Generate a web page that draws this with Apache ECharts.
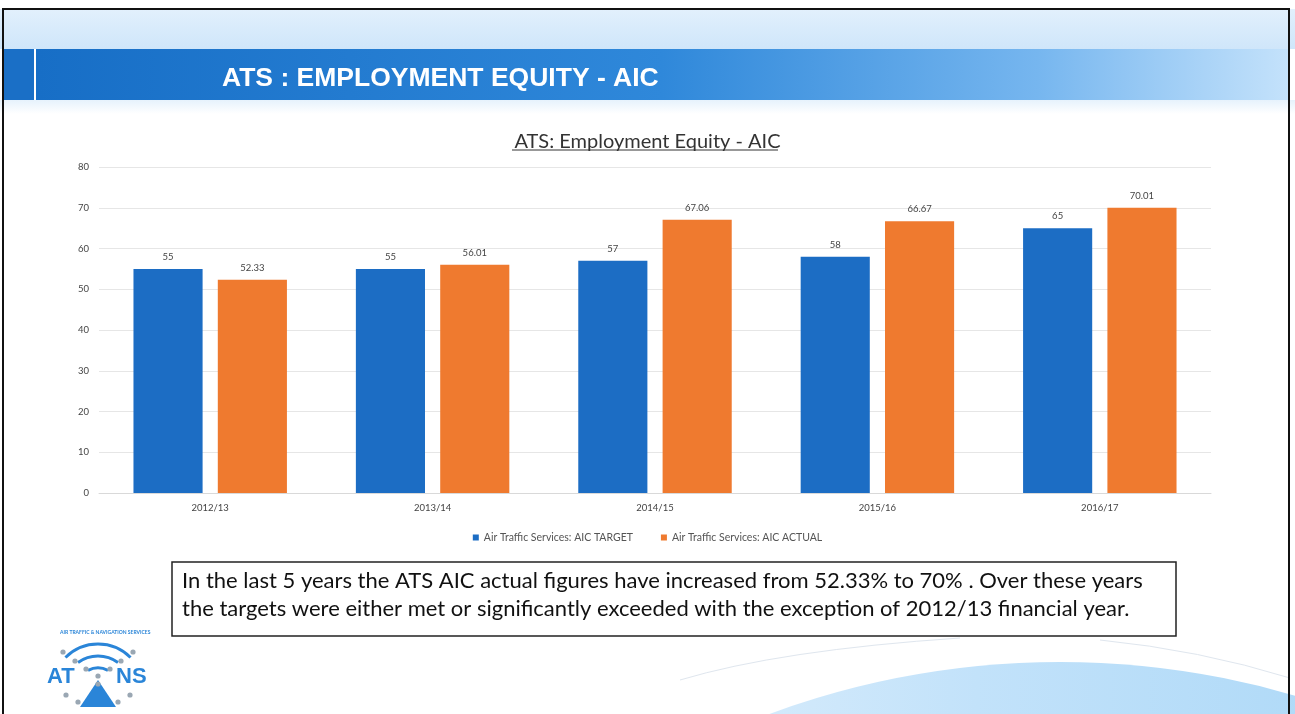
<!DOCTYPE html>
<html>
<head>
<meta charset="utf-8">
<script src="https://cdn.jsdelivr.net/npm/echarts@6/dist/echarts.min.js"></script>
<style>
  html, body { margin: 0; padding: 0; background: #ffffff; }
  #chart { width: 1295px; height: 714px; }
</style>
</head>
<body>
<div id="chart"></div>
<script>
// Financial years on the category axis
const years = ['2012/13', '2013/14', '2014/15', '2015/16', '2016/17'];
// AIC representation (%) – target vs actual
const aicTarget = [55, 55, 57, 58, 65];
const aicActual = [52.33, 56.01, 67.06, 66.67, 70.01];
const seriesNames = ['Air Traffic Services: AIC TARGET', 'Air Traffic Services: AIC ACTUAL'];
const slideHeading = 'ATS : EMPLOYMENT EQUITY - AIC';
const chartTitle = 'ATS: Employment Equity - AIC';
const commentLines = [
  'In the last 5 years the ATS AIC actual figures have increased from 52.33% to 70% . Over these years',
  'the targets were either met or significantly exceeded with the exception of 2012/13 financial year.'
];

const BLUE = '#1c6dc4';
const ORANGE = '#ef7a2f';
const FONT = 'Lato, "Open Sans", sans-serif';

const chart = echarts.init(document.getElementById('chart'), null, { renderer: 'canvas' });

const labelStyle = { show: true, position: 'top', distance: 7, color: '#444', fontSize: 9.5, fontFamily: FONT };

// Logo dots on arcs
const logoDots = [
  [63, 652], [133, 652], [75, 661], [121, 661], [86, 669], [110, 669],
  [98, 676], [98, 684], [66, 695], [130, 695], [78, 702], [118, 702]
];

const graphics = [
  // top light band
  { type: 'rect', silent: true, z: -10, shape: { x: 0, y: 9, width: 1295, height: 40 },
    style: { fill: { type: 'linear', x: 0, y: 0, x2: 0, y2: 1, colorStops: [
      { offset: 0, color: '#e2f0fc' }, { offset: 1, color: '#cfe6fa' } ] } } },
  // band under heading
  { type: 'rect', silent: true, z: -10, shape: { x: 0, y: 100, width: 1295, height: 14 },
    style: { fill: { type: 'linear', x: 0, y: 0, x2: 0, y2: 1, colorStops: [
      { offset: 0, color: '#e6f2fc' }, { offset: 1, color: '#ffffff' } ] } } },
  // left block of heading bar
  { type: 'rect', silent: true, z: -5, shape: { x: 4, y: 49, width: 30, height: 51 },
    style: { fill: '#1a6fc6' } },
  // heading bar
  { type: 'rect', silent: true, z: -5, shape: { x: 36, y: 49, width: 1252, height: 51 },
    style: { fill: { type: 'linear', x: 0, y: 0, x2: 1, y2: 0, colorStops: [
      { offset: 0, color: '#176ec6' }, { offset: 0.5, color: '#2f88da' },
      { offset: 0.8, color: '#76b6ef' }, { offset: 1, color: '#c4e2fb' } ] } } },
  { type: 'text', silent: true, z: 5, x: 222, y: 65,
    style: { text: slideHeading, fill: '#ffffff', fontSize: 26.5, fontWeight: 'bold',
      fontFamily: '"Liberation Sans", Arial, sans-serif' } },
  // chart title underline
  { type: 'line', silent: true, z: 5, shape: { x1: 512, y1: 150, x2: 778, y2: 150 },
    style: { stroke: '#333', lineWidth: 1 } },
  // bottom-right swoosh
  { type: 'circle', silent: true, z: -8, shape: { cx: 1060, cy: 1500, r: 838 },
    style: { fill: { type: 'linear', x: 0, y: 0, x2: 1, y2: 0, colorStops: [
      { offset: 0, color: 'rgba(200,228,250,0.1)' }, { offset: 0.45, color: '#c2e2fa' },
      { offset: 0.7, color: '#acd8f7' }, { offset: 1, color: '#8ec8f2' } ] } } },
  { type: 'bezierCurve', silent: true, z: -8,
    shape: { x1: 680, y1: 680, x2: 960, y2: 638, cpx1: 780, cpy1: 650 },
    style: { fill: null, stroke: '#dfe6ee', lineWidth: 1 } },
  { type: 'bezierCurve', silent: true, z: -8,
    shape: { x1: 1100, y1: 640, x2: 1290, y2: 678, cpx1: 1200, cpy1: 650 },
    style: { fill: null, stroke: '#dfe6ee', lineWidth: 1 } },
  // comment box
  { type: 'rect', silent: true, z: 5, shape: { x: 172, y: 562, width: 1004, height: 74 },
    style: { fill: '#ffffff', stroke: '#222', lineWidth: 1.5 } },
  { type: 'text', silent: true, z: 6, x: 182, y: 570,
    style: { text: commentLines[0], fill: '#111', fontSize: 22, fontFamily: FONT } },
  { type: 'text', silent: true, z: 6, x: 182, y: 598,
    style: { text: commentLines[1], fill: '#111', fontSize: 22, fontFamily: FONT } },
  // logo arcs
  { type: 'arc', silent: true, z: 5, shape: { cx: 98, cy: 690, r: 46, startAngle: Math.PI * 1.25, endAngle: Math.PI * 1.75 },
    style: { stroke: '#2a85d8', lineWidth: 3, fill: null } },
  { type: 'arc', silent: true, z: 5, shape: { cx: 98, cy: 690, r: 34, startAngle: Math.PI * 1.3, endAngle: Math.PI * 1.7 },
    style: { stroke: '#2a85d8', lineWidth: 3, fill: null } },
  { type: 'arc', silent: true, z: 5, shape: { cx: 98, cy: 690, r: 22, startAngle: Math.PI * 1.35, endAngle: Math.PI * 1.65 },
    style: { stroke: '#2a85d8', lineWidth: 3, fill: null } },
  { type: 'text', silent: true, z: 6, x: 60, y: 630,
    style: { text: 'AIR TRAFFIC & NAVIGATION SERVICES', fill: '#2a85d8', fontSize: 5, fontWeight: 'bold', fontFamily: FONT } },
  { type: 'text', silent: true, z: 6, x: 47, y: 666,
    style: { text: 'AT', fill: '#2a85d8', fontSize: 22, fontWeight: 'bold', fontFamily: '"Liberation Sans", Arial, sans-serif' } },
  { type: 'text', silent: true, z: 6, x: 116, y: 666,
    style: { text: 'NS', fill: '#2a85d8', fontSize: 22, fontWeight: 'bold', fontFamily: '"Liberation Sans", Arial, sans-serif' } },
  { type: 'polygon', silent: true, z: 6, shape: { points: [[98, 680], [80, 707], [116, 707]] },
    style: { fill: '#2a85d8' } },
  // slide frame
  { type: 'rect', silent: true, z: 20, shape: { x: 3, y: 9, width: 1286, height: 720 },
    style: { fill: null, stroke: '#111', lineWidth: 2 } }
];
logoDots.forEach(function (p) {
  graphics.push({ type: 'circle', silent: true, z: 6, shape: { cx: p[0], cy: p[1], r: 2.6 },
    style: { fill: '#9aa7b3' } });
});

chart.setOption({
  backgroundColor: '#ffffff',
  animation: false,
  textStyle: { fontFamily: FONT },
  title: {
    text: chartTitle,
    left: 'center',
    top: 127,
    textStyle: { fontSize: 20, fontWeight: 'normal', color: '#333', fontFamily: FONT }
  },
  legend: {
    data: seriesNames,
    bottom: 166,
    left: 'center',
    itemWidth: 6,
    itemHeight: 6,
    itemGap: 28,
    icon: 'rect',
    textStyle: { fontSize: 10.5, color: '#555', fontFamily: FONT }
  },
  grid: { left: 99, right: 84, top: 167, bottom: 221, containLabel: false },
  xAxis: {
    type: 'category',
    data: years,
    axisLine: { show: true, lineStyle: { color: '#d9d9d9' } },
    axisTick: { show: false },
    axisLabel: { color: '#444', fontSize: 9.5, margin: 10, fontFamily: FONT }
  },
  yAxis: {
    type: 'value',
    min: 0,
    max: 80,
    interval: 10,
    axisLine: { show: false },
    axisTick: { show: false },
    axisLabel: { color: '#444', fontSize: 9.5, margin: 10, fontFamily: FONT },
    splitLine: { lineStyle: { color: '#e6e6e6', width: 1 } }
  },
  series: [
    { name: seriesNames[0], type: 'bar', data: aicTarget, barGap: '22%', barCategoryGap: '31%',
      itemStyle: { color: BLUE }, label: labelStyle },
    { name: seriesNames[1], type: 'bar', data: aicActual,
      itemStyle: { color: ORANGE }, label: labelStyle }
  ],
  graphic: graphics
});
</script>
</body>
</html>
